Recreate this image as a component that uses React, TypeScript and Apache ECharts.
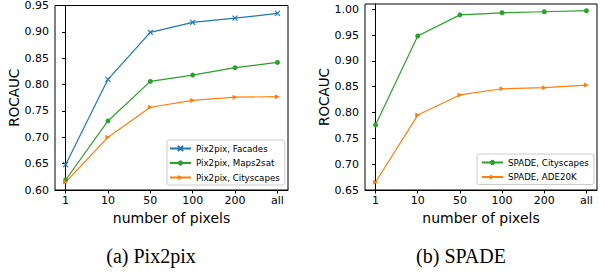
import React, { useEffect, useRef } from "react";
import * as echarts from "echarts";

const categories = ["1", "10", "50", "100", "200", "all"];

const pix2pixFacades = [0.648, 0.81, 0.899, 0.918, 0.926, 0.935];
const pix2pixMaps2sat = [0.619, 0.731, 0.806, 0.818, 0.832, 0.842];
const pix2pixCityscapes = [0.615, 0.7, 0.757, 0.77, 0.776, 0.777];

const spadeCityscapes = [0.776, 0.948, 0.989, 0.993, 0.995, 0.997];
const spadeAde20k = [0.665, 0.795, 0.834, 0.846, 0.848, 0.853];

const leftTicks = [0.6, 0.65, 0.7, 0.75, 0.8, 0.85, 0.9, 0.95];
const rightTicks = [0.65, 0.7, 0.75, 0.8, 0.85, 0.9, 0.95, 1.0];

const BLUE = "#1f77b4";
const GREEN = "#2ca02c";
const ORANGE = "#ff7f0e";
const FONT = "DejaVu Sans";

const toPairs = (vals: number[]) => vals.map((v, i) => [i, v]);
const xIdx = categories.map((_, i) => i);

export default function App() {
  const ref = useRef<HTMLDivElement>(null);
  useEffect(() => {
    if (!ref.current) return;
    const chart = echarts.init(ref.current, null, { renderer: "svg" });

    const xAxisBase = (gridIndex: number) => ({
      type: "value",
      gridIndex,
      min: -0.25,
      max: 5.25,
      name: "number of pixels",
      nameLocation: "middle",
      nameGap: 18,
      nameTextStyle: { fontFamily: FONT, fontSize: 14, color: "#000" },
      axisLine: { show: true, onZero: false, lineStyle: { color: "#000", width: 1 } },
      axisTick: { show: true, length: 3.5, customValues: xIdx, lineStyle: { color: "#000" } },
      axisLabel: {
        customValues: xIdx,
        formatter: (v: number) => categories[Math.round(v)],
        fontFamily: FONT,
        fontSize: 11,
        color: "#000",
        margin: 5,
      },
      splitLine: { show: false },
    });

    const yAxisBase = (gridIndex: number, min: number, max: number, ticks: number[]) => ({
      type: "value",
      gridIndex,
      min,
      max,
      name: "ROCAUC",
      nameLocation: "middle",
      nameGap: 27,
      nameTextStyle: { fontFamily: FONT, fontSize: 13.5, color: "#000" },
      axisLine: { show: true, lineStyle: { color: "#000", width: 1 } },
      axisTick: { show: true, length: 3.5, customValues: ticks, lineStyle: { color: "#000" } },
      axisLabel: {
        customValues: ticks,
        formatter: (v: number) => v.toFixed(2),
        fontFamily: FONT,
        fontSize: 11,
        color: "#000",
        margin: 6,
      },
      splitLine: { show: false },
    });

    const lineSeries = (
      name: string,
      vals: number[],
      color: string,
      symbol: string,
      idx: number,
      extra: any = {}
    ) => ({
      type: "line",
      name,
      xAxisIndex: idx,
      yAxisIndex: idx,
      data: toPairs(vals),
      color,
      symbol,
      symbolSize: 5,
      lineStyle: { color, width: 1.2 },
      itemStyle: { color },
      ...extra,
    });

    const xSym = "path://M0,0L10,10M10,0L0,10";

    const legendBase = {
      orient: "vertical",
      itemWidth: 21,
      itemHeight: 6.5,
      itemGap: 5.5,
      borderColor: "#cccccc",
      borderWidth: 1,
      borderRadius: 2,
      backgroundColor: "rgba(255,255,255,0.8)",
      textStyle: { fontFamily: FONT, fontSize: 8.7, color: "#000" },
    };

    chart.setOption({
      animation: false,
      grid: [
        { left: 55, top: 4, width: 233, height: 186, show: true, borderColor: "#000", borderWidth: 1 },
        { left: 365, top: 4, width: 232, height: 186, show: true, borderColor: "#000", borderWidth: 1 },
      ],
      xAxis: [xAxisBase(0), xAxisBase(1)],
      yAxis: [yAxisBase(0, 0.6, 0.95, leftTicks), yAxisBase(1, 0.65, 1.01, rightTicks)],
      legend: [
        {
          ...legendBase,
          left: 167,
          top: 140,
          padding: [4, 5, 3, 2],
          data: ["Pix2pix, Facades", "Pix2pix, Maps2sat", "Pix2pix, Cityscapes"],
        },
        {
          ...legendBase,
          left: 477,
          top: 154,
          padding: [4, 5, 3, 4],
          data: ["SPADE, Cityscapes", "SPADE, ADE20K"],
        },
      ],
      series: [
        lineSeries("Pix2pix, Facades", pix2pixFacades, BLUE, xSym, 0, {
          itemStyle: { color: BLUE, borderColor: BLUE, borderWidth: 1.2 },
        }),
        lineSeries("Pix2pix, Maps2sat", pix2pixMaps2sat, GREEN, "circle", 0),
        lineSeries("Pix2pix, Cityscapes", pix2pixCityscapes, ORANGE, "triangle", 0, {
          symbolRotate: -90,
        }),
        lineSeries("SPADE, Cityscapes", spadeCityscapes, GREEN, "circle", 1),
        lineSeries("SPADE, ADE20K", spadeAde20k, ORANGE, "triangle", 1, { symbolRotate: -90 }),
      ],
      graphic: [
        {
          type: "text",
          x: 151,
          y: 256,
          style: {
            text: "(a) Pix2pix",
            fontFamily: "Liberation Serif",
            fontSize: 20,
            fill: "#000",
            align: "center",
            verticalAlign: "middle",
          },
        },
        {
          type: "text",
          x: 461,
          y: 256,
          style: {
            text: "(b) SPADE",
            fontFamily: "Liberation Serif",
            fontSize: 20,
            fill: "#000",
            align: "center",
            verticalAlign: "middle",
          },
        },
      ],
    });
    return () => chart.dispose();
  }, []);
  return (
    <div
      ref={ref}
      style={{ position: "fixed", left: 0, top: 0, width: 605, height: 277, background: "#fff" }}
    />
  );
}
